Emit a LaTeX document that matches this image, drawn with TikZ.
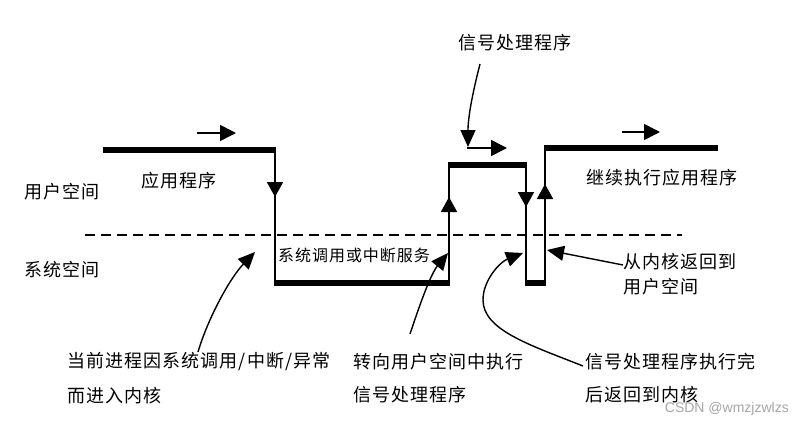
\documentclass[tikz,border=0pt]{standalone}
\usepackage{fontspec}
\setmainfont{Noto Sans CJK SC}[LetterSpace=6]
\newfontfamily\markfont{Liberation Sans}
\usetikzlibrary{arrows.meta}

\begin{document}
\begin{tikzpicture}[x=1pt,y=-1pt,
  seg/.style={line width=5.5pt},
  riser/.style={line width=1.8pt},
  flowhead/.style={-{Triangle[length=15pt,width=16pt]}, line width=1.8pt},
  dirarrow/.style={-{Triangle[length=16pt,width=16pt]}, line width=1.6pt},
  callout/.style={-{Triangle[length=17pt,width=15pt]}, line width=1.4pt},
  lbl/.style={font=\fontsize{18}{20}\selectfont, inner sep=0pt},
  smalllbl/.style={font=\fontsize{16}{18}\selectfont, inner sep=0pt},
  boundary/.style={line width=1.5pt, dash pattern=on 10pt off 6pt},
]
\useasboundingbox[fill=white] (0,0) rectangle (804,426);

% user / kernel boundary
\draw[boundary] (85,235) -- (682,235);

% execution trace: application -> kernel -> handler -> kernel -> application
\coordinate (p0) at (103,150);
\coordinate (p1) at (275,150);
\coordinate (p2) at (275,283);
\coordinate (p3) at (449,283);
\coordinate (p4) at (449,165);
\coordinate (p5) at (526,165);
\coordinate (p6) at (526,283);
\coordinate (p7) at (545,283);
\coordinate (p8) at (545,148);
\coordinate (p9) at (718,148);

\draw[seg] (p0) -- ([xshift=1pt]p1);
\draw[riser] ([yshift=-2.75pt]p1) -- ([yshift=2.75pt]p2);
\draw[seg] ([xshift=-1pt]p2) -- ([xshift=1pt]p3);
\draw[riser] ([yshift=2.75pt]p3) -- ([yshift=-2.75pt]p4);
\draw[seg] ([xshift=-1pt]p4) -- ([xshift=1pt]p5);
\draw[riser] ([yshift=-2.75pt]p5) -- ([yshift=2.75pt]p6);
\draw[seg] ([xshift=-1pt]p6) -- ([xshift=1pt]p7);
\draw[riser] ([yshift=2.75pt]p7) -- ([yshift=-2.75pt]p8);
\draw[seg] ([xshift=-1pt]p8) -- (p9);

% direction heads on the vertical transitions
\draw[flowhead] (275,175) -- (275,197);
\draw[flowhead] (449,220) -- (449,197);
\draw[flowhead] (526,185) -- (526,207);
\draw[flowhead] (545,206) -- (545,184);

% direction of execution in user space
\coordinate (d1a) at (197,133); \coordinate (d1b) at (236,133);
\coordinate (d2a) at (467,148); \coordinate (d2b) at (507,148);
\coordinate (d3a) at (622,132); \coordinate (d3b) at (660,132);
\draw[dirarrow] (d1a) -- (d1b);
\draw[dirarrow] (d2a) -- (d2b);
\draw[dirarrow] (d3a) -- (d3b);

% labels
\node[lbl] (userspace) at (62,192) {用户空间};
\node[lbl] (kernelspace) at (62,270) {系统空间};
\node[lbl] (app) at (179,181) {应用程序};
\node[smalllbl, anchor=west] (syscall) at (278,255) {系统调用或中断服务};
\node[lbl] (handler) at (515,43) {信号处理程序};
\node[lbl] (resume) at (662,178) {继续执行应用程序};
\node[lbl, anchor=west] (backA) at (623,262) {从内核返回到};
\node[lbl, anchor=west] (backB) at (623,287) {用户空间};
\node[lbl, anchor=west] (enterA) at (67,362) {当前进程因系统调用/中断/异常};
\node[lbl, anchor=west] (enterB) at (67,396) {而进入内核};
\node[lbl, anchor=west] (toUserA) at (353,362) {转向用户空间中执行};
\node[lbl, anchor=west] (toUserB) at (353,395) {信号处理程序};
\node[lbl, anchor=west] (doneA) at (585,362) {信号处理程序执行完};
\node[lbl, anchor=west] (doneB) at (585,395) {后返回到内核};
\node[font=\markfont\fontsize{14}{16}\selectfont, text=black!35, inner sep=0pt, anchor=east] (credit) at (789,409) {CSDN @wmzjzwlzs};

% callouts
\coordinate (enterTip) at (255,252);
\coordinate (enterFoot) at (198,352);
\coordinate (toUserTip) at (448,253);
\coordinate (toUserFoot) at (410,334);
\coordinate (doneTip) at (523,253);
\coordinate (doneFoot) at (583,366);
\coordinate (backTip) at (547,250);
\coordinate (backFoot) at (623,265);
\coordinate (handlerFoot) at (480,64);
\coordinate (handlerTip) at (468,147);

\draw[callout] (enterFoot) .. controls (208,318) and (230,278) .. (enterTip);
\draw[callout] (toUserFoot) .. controls (418,310) and (430,275) .. (toUserTip);
\draw[callout] (doneFoot) .. controls (530,345) and (483,330) .. (483,300)
               .. controls (483,280) and (500,262) .. (doneTip);
\draw[callout] (backFoot) -- (backTip);
\draw[callout] (handlerFoot) .. controls (472,95) and (468,118) .. (handlerTip);
\end{tikzpicture}
\end{document}
